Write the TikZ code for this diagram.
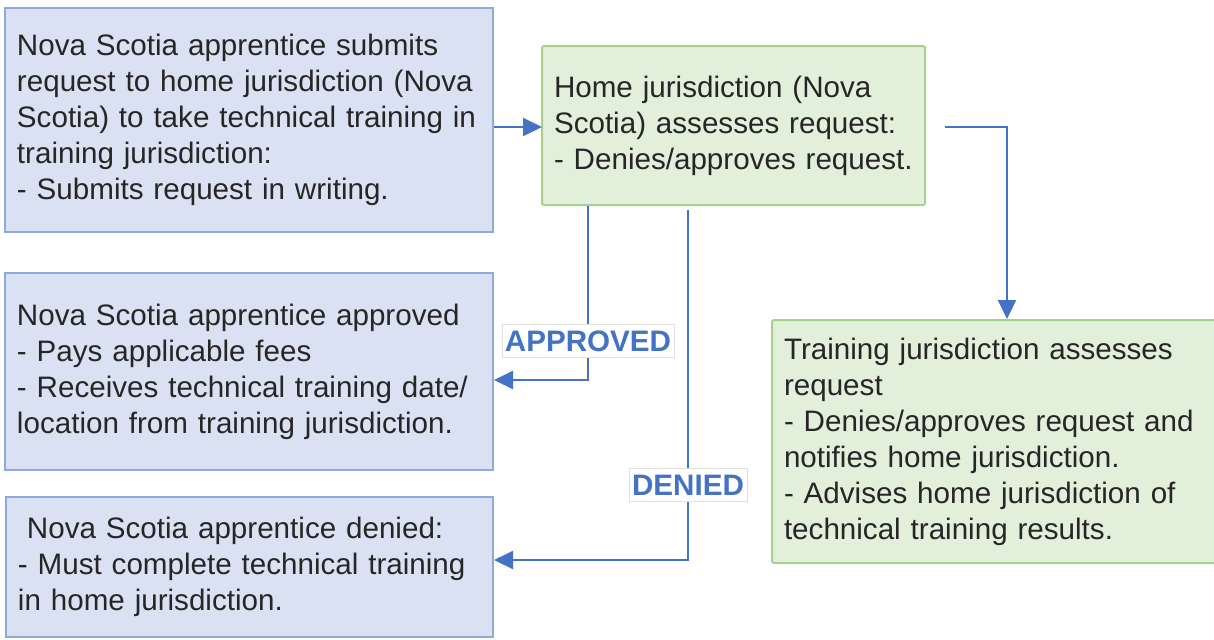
\documentclass[tikz,border=0pt]{standalone}
\usepackage{fontspec}
\setmainfont{Liberation Sans}
\usepackage{xcolor}
\usetikzlibrary{arrows.meta,positioning}
\definecolor{boxblue}{HTML}{DAE1F3}
\definecolor{lineblue}{HTML}{8EA9DB}
\definecolor{boxgreen}{HTML}{E2EFDA}
\definecolor{linegreen}{HTML}{A9D18E}
\definecolor{arrowblue}{HTML}{4472C4}
\begin{document}
\begin{tikzpicture}[x=0.5pt, y=-0.5pt,
    font=\fontsize{14.8pt}{18pt}\selectfont, text=black!85,
    bluebox/.style={draw=lineblue,line width=1pt,fill=boxblue,inner xsep=6pt,inner ysep=0pt,align=left},
    greenbox/.style={draw=linegreen,line width=1pt,fill=boxgreen,rounded corners=1pt,inner xsep=6pt,inner ysep=0pt,align=left},
    flow/.style={draw=arrowblue,line width=1pt,-{Triangle[length=9.5pt,width=9pt]}},
    tag/.style={fill=white,draw=black!12,line width=0.4pt,text=arrowblue,font=\fontsize{14.8pt}{18pt}\selectfont\bfseries,inner xsep=1.5pt,inner ysep=3pt}]
\useasboundingbox (0,0) rectangle (1214,639);
\node[bluebox,minimum width=244pt,minimum height=112pt,text width=232pt] (request) at (249,120)
  {Nova Scotia apprentice submits\\request to home jurisdiction (Nova\\Scotia) to take technical training in\\training jurisdiction:\\- Submits request in writing.};
\node[greenbox,minimum width=191.5pt,minimum height=79.5pt,text width=179.5pt] (home) at (733.5,125.5)
  {Home jurisdiction (Nova\\Scotia) assesses request:\\- Denies/approves request.};
\node[bluebox,minimum width=244pt,minimum height=98.5pt,text width=232pt] (approved) at (249,371.5)
  {Nova Scotia apprentice approved\\- Pays applicable fees\\- Receives technical training date/\\location from training jurisdiction.};
\node[bluebox,minimum width=243.5pt,minimum height=70pt,text width=231.5pt] (denied) at (249.5,567)
  {\hspace{4.5pt}Nova Scotia apprentice denied:\\- Must complete technical training\\in home jurisdiction.};
\node[greenbox,minimum width=235pt,minimum height=121.5pt,text width=223pt] (training) at (1007,441.5)
  {Training jurisdiction assesses\\request\\- Denies/approves request and\\notifies home jurisdiction.\\- Advises home jurisdiction of\\technical training results.};
\coordinate (in) at (542,127);
\coordinate (out) at (945,127);
\coordinate (yes) at (588,380);
\coordinate (no) at (688,560);
\coordinate (notop) at (688,210);
\draw[flow] (request.east |- in) -- (in);
\draw[flow] (out) -| (training.north);
\draw[flow] (home.south -| yes) -- (yes) -- (approved.east |- yes);
\draw[flow] (notop) -- (no) -- (denied.east |- no);
\node[tag] (yestag) at (588,341) {APPROVED};
\node[tag] (notag) at (688,485) {DENIED};
\end{tikzpicture}
\end{document}
